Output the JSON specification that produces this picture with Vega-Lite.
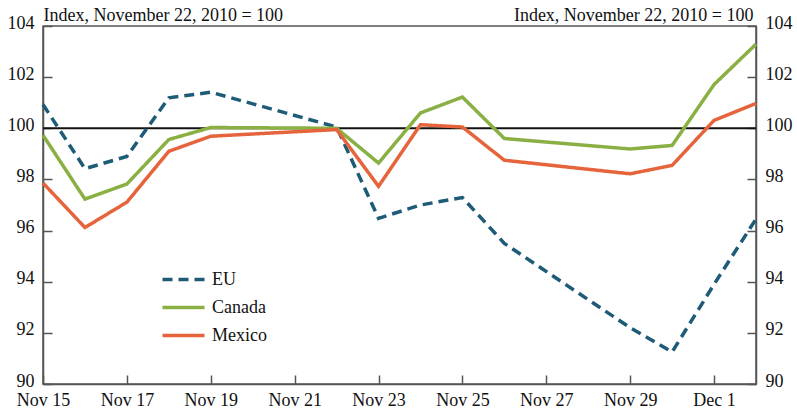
{
  "$schema": "https://vega.github.io/schema/vega-lite/v6.json",
  "width": 713,
  "height": 358,
  "autosize": "none",
  "padding": {"left": 43, "top": 26, "right": 41, "bottom": 27},
  "background": "white",
  "config": {
    "font": "Liberation Serif",
    "view": {"stroke": "#555", "strokeWidth": 1.5},
    "axis": {
      "grid": false,
      "domainColor": "#555",
      "domainWidth": 1.5,
      "tickColor": "#555",
      "tickWidth": 1.5,
      "labelFont": "Liberation Serif",
      "labelFontSize": 18,
      "labelColor": "#111",
      "titleFont": "Liberation Serif",
      "titleFontSize": 18,
      "titleFontWeight": "normal",
      "titleColor": "#111"
    },
    "legend": {
      "labelFont": "Liberation Serif",
      "labelFontSize": 18,
      "labelColor": "#111"
    }
  },
  "data": {
    "values": [
      {"date": "2010-11-15", "series": "EU", "value": 100.93},
      {"date": "2010-11-16", "series": "EU", "value": 98.42},
      {"date": "2010-11-17", "series": "EU", "value": 98.9},
      {"date": "2010-11-18", "series": "EU", "value": 101.19},
      {"date": "2010-11-19", "series": "EU", "value": 101.41},
      {"date": "2010-11-22", "series": "EU", "value": 100.05},
      {"date": "2010-11-23", "series": "EU", "value": 96.48},
      {"date": "2010-11-24", "series": "EU", "value": 97.0},
      {"date": "2010-11-25", "series": "EU", "value": 97.29},
      {"date": "2010-11-26", "series": "EU", "value": 95.5},
      {"date": "2010-11-29", "series": "EU", "value": 92.2},
      {"date": "2010-11-30", "series": "EU", "value": 91.25},
      {"date": "2010-12-01", "series": "EU", "value": 93.9},
      {"date": "2010-12-02", "series": "EU", "value": 96.45},
      {"date": "2010-11-15", "series": "Canada", "value": 99.73},
      {"date": "2010-11-16", "series": "Canada", "value": 97.23},
      {"date": "2010-11-17", "series": "Canada", "value": 97.82},
      {"date": "2010-11-18", "series": "Canada", "value": 99.56},
      {"date": "2010-11-19", "series": "Canada", "value": 100.03},
      {"date": "2010-11-22", "series": "Canada", "value": 100.0},
      {"date": "2010-11-23", "series": "Canada", "value": 98.64},
      {"date": "2010-11-24", "series": "Canada", "value": 100.6},
      {"date": "2010-11-25", "series": "Canada", "value": 101.22},
      {"date": "2010-11-26", "series": "Canada", "value": 99.6},
      {"date": "2010-11-29", "series": "Canada", "value": 99.19},
      {"date": "2010-11-30", "series": "Canada", "value": 99.33},
      {"date": "2010-12-01", "series": "Canada", "value": 101.71},
      {"date": "2010-12-02", "series": "Canada", "value": 103.29},
      {"date": "2010-11-15", "series": "Mexico", "value": 97.86},
      {"date": "2010-11-16", "series": "Mexico", "value": 96.12},
      {"date": "2010-11-17", "series": "Mexico", "value": 97.11},
      {"date": "2010-11-18", "series": "Mexico", "value": 99.1},
      {"date": "2010-11-19", "series": "Mexico", "value": 99.69},
      {"date": "2010-11-22", "series": "Mexico", "value": 99.95},
      {"date": "2010-11-23", "series": "Mexico", "value": 97.73},
      {"date": "2010-11-24", "series": "Mexico", "value": 100.14},
      {"date": "2010-11-25", "series": "Mexico", "value": 100.05},
      {"date": "2010-11-26", "series": "Mexico", "value": 98.75},
      {"date": "2010-11-29", "series": "Mexico", "value": 98.22},
      {"date": "2010-11-30", "series": "Mexico", "value": 98.55},
      {"date": "2010-12-01", "series": "Mexico", "value": 100.31},
      {"date": "2010-12-02", "series": "Mexico", "value": 100.97}
    ]
  },
  "layer": [
    {
      "data": {"values": [{"ref": 100}]},
      "mark": {"type": "rule", "color": "#111", "strokeWidth": 2},
      "encoding": {
        "y": {
          "field": "ref",
          "type": "quantitative",
          "scale": {"domain": [90, 104], "nice": false, "zero": false},
          "axis": {
            "orient": "right",
            "values": [90, 92, 94, 96, 98, 100, 102, 104],
            "tickSize": -9,
            "labelPadding": 18,
            "labelFlush": false,
            "labelOffset": -3,
            "title": "Index, November 22, 2010 = 100",
            "titleAngle": 0,
            "titleAlign": "right",
            "titleBaseline": "alphabetic",
            "titleX": -3,
            "titleY": -6
          }
        }
      }
    },
    {
      "mark": {"type": "line", "strokeWidth": 3.5, "strokeCap": "butt"},
      "encoding": {
        "x": {
          "field": "date",
          "type": "temporal",
          "scale": {
            "type": "utc",
            "domain": [
              {"year": 2010, "month": "nov", "date": 15, "utc": true},
              {"year": 2010, "month": "dec", "date": 2, "utc": true}
            ]
          },
          "axis": {
            "title": null,
            "format": "%b %-d",
            "tickSize": -9,
            "labelPadding": 16,
            "labelFlush": false,
            "values": [
              {"year": 2010, "month": "nov", "date": 15, "utc": true},
              {"year": 2010, "month": "nov", "date": 17, "utc": true},
              {"year": 2010, "month": "nov", "date": 19, "utc": true},
              {"year": 2010, "month": "nov", "date": 21, "utc": true},
              {"year": 2010, "month": "nov", "date": 23, "utc": true},
              {"year": 2010, "month": "nov", "date": 25, "utc": true},
              {"year": 2010, "month": "nov", "date": 27, "utc": true},
              {"year": 2010, "month": "nov", "date": 29, "utc": true},
              {"year": 2010, "month": "dec", "date": 1, "utc": true}
            ]
          }
        },
        "y": {
          "field": "value",
          "type": "quantitative",
          "scale": {"domain": [90, 104], "nice": false, "zero": false},
          "axis": {
            "orient": "left",
            "values": [90, 92, 94, 96, 98, 100, 102, 104],
            "tickSize": -9,
            "labelPadding": 18,
            "labelFlush": false,
            "labelOffset": -3,
            "title": "Index, November 22, 2010 = 100",
            "titleAngle": 0,
            "titleAlign": "left",
            "titleBaseline": "alphabetic",
            "titleX": 0,
            "titleY": -6
          }
        },
        "color": {
          "field": "series",
          "type": "nominal",
          "scale": {
            "domain": ["EU", "Canada", "Mexico"],
            "range": ["#1e5b77", "#8aaf42", "#e6643c"]
          },
          "legend": {
            "title": null,
            "orient": "none",
            "legendX": 128,
            "legendY": 241,
            "padding": 0,
            "symbolType": "M-2,0H2",
            "symbolSize": 441,
            "symbolStrokeWidth": 3.5,
            "rowPadding": 6,
            "labelOffset": 16
          }
        },
        "strokeDash": {
          "field": "series",
          "type": "nominal",
          "scale": {
            "domain": ["EU", "Canada", "Mexico"],
            "range": [[10, 6], [1, 0], [1, 0]]
          },
          "legend": {
            "title": null,
            "orient": "none",
            "legendX": 128,
            "legendY": 241,
            "padding": 0,
            "symbolType": "M-2,0H2",
            "symbolSize": 441,
            "symbolStrokeWidth": 3.5,
            "rowPadding": 6,
            "labelOffset": 16
          }
        }
      }
    }
  ],
  "resolve": {"axis": {"y": "independent"}}
}
